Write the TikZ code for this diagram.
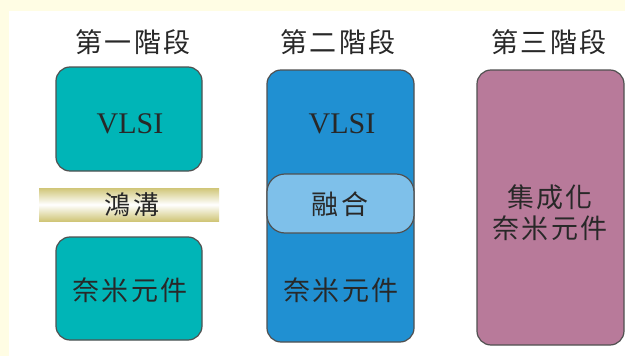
\documentclass[tikz,border=0pt]{standalone}
\usepackage{fontspec}
\setmainfont{Liberation Serif}
\newfontfamily\cjk[LetterSpace=8]{Noto Sans CJK TC}
\definecolor{bgyel}{RGB}{255,253,228}
\definecolor{teal1}{RGB}{0,181,183}
\definecolor{blue2}{RGB}{32,144,210}
\definecolor{lblue}{RGB}{126,192,234}
\definecolor{mauve}{RGB}{184,122,154}
\definecolor{gold}{RGB}{208,198,120}
\definecolor{edge}{RGB}{80,80,80}
\definecolor{txt}{RGB}{40,40,40}
\tikzset{
  stagebox/.style={draw=edge, line width=1.2pt, rounded corners=14pt},
  title/.style={font=\cjk\fontsize{27}{30}\selectfont, text=txt, inner sep=0pt},
  label/.style={font=\cjk\fontsize{27}{31}\selectfont, text=txt, inner sep=0pt, align=center},
  vlsi/.style={font=\fontsize{30}{32}\selectfont, text=txt, inner sep=0pt}
}
\begin{document}
\begin{tikzpicture}[x=1pt,y=-1pt]
\useasboundingbox (0,0) rectangle (625,356);
\fill[bgyel] (0,0) rectangle (625,356);
\fill[white] (9,11) rectangle (625,356);
% titles
\node[title] (t1) at (133,42) {第一階段};
\node[title] (t2) at (338,42) {第二階段};
\node[title] (t3) at (549,42) {第三階段};
% stage 1
\path[stagebox, fill=teal1] (56,67) rectangle (202,171);
\node[vlsi] (v1) at (130,124) {VLSI};
\shade[top color=gold, bottom color=gold, middle color=white] (39,188) rectangle (219,221);
\node[label, font=\cjk\fontsize{26}{30}\selectfont] (gap) at (132,205) {鴻溝};
\path[stagebox, fill=teal1] (56,237) rectangle (202,340);
\node[label] (n1) at (130,290) {奈米元件};
% stage 2
\path[stagebox, fill=blue2] (267,70) rectangle (414,342);
\node[vlsi] (v2) at (342,124) {VLSI};
\path[stagebox, fill=lblue, rounded corners=18pt] (267,174) rectangle (414,233);
\node[label] (fuse) at (340,204) {融合};
\node[label] (n2) at (341,290) {奈米元件};
% stage 3
\path[stagebox, fill=mauve] (477,70) rectangle (624,345);
\node[label] (n3) at (550,213) {集成化\\奈米元件};
\end{tikzpicture}
\end{document}
